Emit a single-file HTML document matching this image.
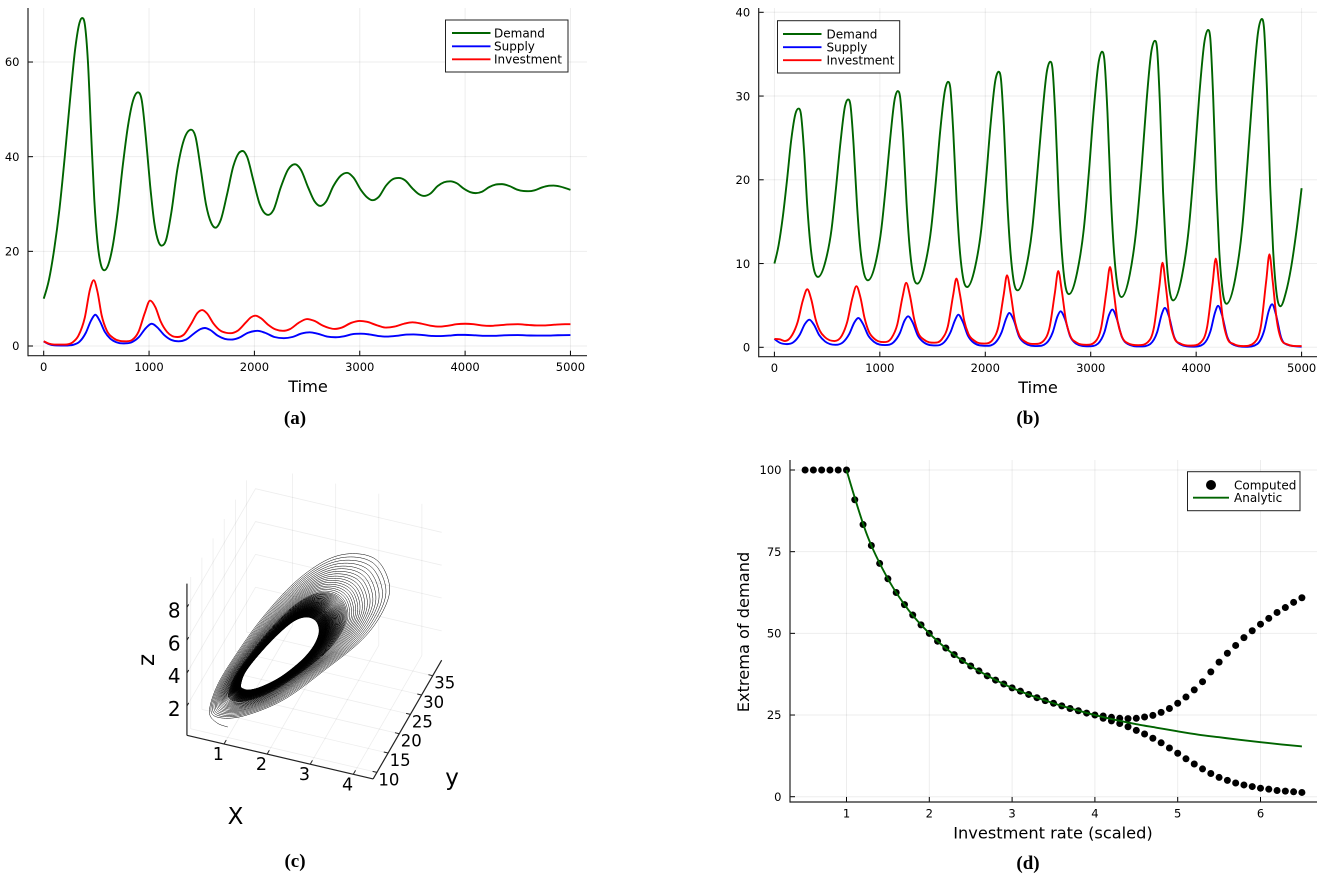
<!DOCTYPE html>
<html lang="en">
<head>
<meta charset="utf-8">
<title>Demand, supply and investment dynamics</title>
<style>
html,body{margin:0;padding:0;background:#fff;width:1325px;height:883px;overflow:hidden}
svg{display:block}
text{font-family:"DejaVu Sans","Liberation Sans",sans-serif;fill:#000}
.cap{font-family:"Liberation Serif",serif;font-weight:bold;font-size:19px}
</style>
</head>
<body>
<svg id="figure" xmlns="http://www.w3.org/2000/svg" width="1325" height="883" viewBox="0 0 1325 883">
<rect width="1325" height="883" fill="#fff"/>
<text class="cap" x="295" y="424" text-anchor="middle">(a)</text>
<text class="cap" x="1028" y="424" text-anchor="middle">(b)</text>
<text class="cap" x="295" y="867" text-anchor="middle">(c)</text>
<text class="cap" x="1028" y="869" text-anchor="middle">(d)</text>
</svg>
<script>
// ---------- Panel (a) data ----------
const aDemandT=[0,50,100,150,200,250,300,340,365,390,420,450,480,510,545,575,610,650,700,750,800,850,895,930,970,1010,1050,1090,1120,1160,1210,1270,1330,1400,1440,1490,1540,1590,1630,1680,1740,1800,1850,1890,1930,1990,2050,2100,2130,2180,2250,2320,2385,2440,2510,2570,2625,2680,2750,2820,2880,2940,3010,3070,3120,3180,3250,3310,3370,3430,3500,3560,3610,3670,3740,3800,3860,3920,3990,4050,4100,4160,4230,4290,4350,4420,4500,4550,4600,4660,4730,4790,4840,4900,4960,5000];
const aDemandV=[10,14,20.5,29,40,52,63,68.3,69.3,68,60,45,31,22,17,16,17,20.5,28,38,46.5,52,53.6,52,44,34,26,22,21.2,22.3,28,37.5,43.5,45.7,44.3,37.5,30,26,25,26.6,32,38,40.7,41.2,40,35,30,28,27.7,28.7,33.5,37.3,38.4,37.3,33.5,30.6,29.6,30.5,33.8,36,36.6,35.6,33,31.4,30.8,31.5,33.9,35.2,35.5,35,33.3,32.1,31.7,32.2,33.8,34.6,34.8,34.4,33.2,32.5,32.3,32.6,33.6,34.1,34.2,33.8,33,32.75,32.7,32.9,33.5,33.85,33.9,33.7,33.3,33];
const aSupplyT=[0,50,100,200,280,340,400,450,490,530,580,630,690,760,830,900,970,1025,1080,1140,1210,1280,1350,1430,1490,1530,1580,1650,1720,1780,1850,1940,2030,2100,2190,2280,2360,2450,2525,2600,2690,2770,2850,2930,3010,3090,3180,3270,3350,3430,3510,3600,3690,3770,3850,3930,4000,4100,4190,4270,4370,4500,4620,4770,4880,5000];
const aSupplyV=[1,0.4,0.15,0.1,0.25,0.9,2.8,5.4,6.6,5.4,3,1.6,0.8,0.55,0.75,1.8,3.8,4.7,3.9,2.4,1.3,1,1.35,2.7,3.6,3.8,3.4,2.2,1.5,1.35,1.7,2.8,3.2,2.8,1.9,1.65,1.9,2.65,2.9,2.6,2,1.85,2.05,2.5,2.6,2.45,2.1,2,2.15,2.4,2.45,2.3,2.12,2.1,2.2,2.35,2.35,2.25,2.15,2.15,2.25,2.3,2.22,2.2,2.27,2.3];
const aInvestT=[0,50,100,200,270,330,390,440,475,510,550,600,660,720,780,840,900,960,1010,1060,1110,1170,1220,1270,1330,1400,1460,1505,1550,1610,1680,1730,1775,1840,1920,1970,2010,2060,2130,2200,2270,2340,2420,2500,2570,2650,2710,2760,2830,2920,3000,3070,3160,3250,3330,3420,3500,3590,3670,3760,3840,3920,4000,4080,4160,4240,4330,4420,4500,4600,4680,4750,4850,4950,5000];
const aInvestV=[1,0.5,0.3,0.3,0.7,2.2,6,12,13.9,11.5,6.5,3.2,1.7,1.1,1,1.3,3,7,9.6,8.2,5.2,3,2.1,1.9,2.4,4.7,7,7.6,6.9,4.8,3.2,2.8,2.7,3.2,5,6.1,6.4,5.9,4.5,3.5,3.2,3.6,4.9,5.7,5.3,4.3,3.8,3.6,3.9,4.9,5.3,5.1,4.4,3.9,4.1,4.7,5,4.7,4.3,4.1,4.3,4.6,4.7,4.6,4.35,4.25,4.4,4.55,4.6,4.45,4.35,4.35,4.5,4.6,4.6];
const aXTicks=[0,1000,2000,3000,4000,5000];
const aYTicks=[0,20,40,60];

// ---------- Panel (b) data ----------
const bDemandT=[0,40,80,120,160,200,229,251,281,312,340,373,414,485,542,584,627,670,698,721,751,783,811,845,887,958,1014,1057,1099,1142,1170,1192,1222,1253,1281,1314,1355,1428,1486,1530,1573,1618,1646,1668,1697,1728,1755,1788,1828,1902,1962,2007,2051,2096,2126,2148,2177,2207,2235,2267,2307,2384,2446,2492,2539,2585,2616,2637,2666,2696,2723,2755,2794,2872,2935,2982,3029,3076,3107,3129,3159,3190,3218,3252,3292,3371,3434,3482,3529,3576,3608,3629,3657,3686,3712,3744,3782,3865,3931,3981,4030,4080,4113,4134,4162,4192,4218,4250,4288,4372,4438,4488,4539,4589,4622,4643,4672,4702,4729,4761,4800,4850,4900,4950,5000];
const bDemandV=[10,12.2,15.6,20,24.8,27.9,28.5,27.9,23.5,16.8,12.4,9.4,8.4,10.3,14.1,19,24.5,28.8,29.6,28.95,24.2,17.1,12.3,9.1,8,10,14.1,19.3,25,29.7,30.6,29.9,24.9,17.3,12.2,8.75,7.6,9.8,14.1,19.65,25.9,30.7,31.7,31,25.6,17.5,12.1,8.4,7.2,9.5,14.1,20.05,26.7,31.9,32.9,32.1,26.4,17.8,12,8.1,6.8,9.3,14.2,20.5,27.5,33,34.1,33.3,27.2,18,11.9,7.7,6.35,9,14.2,20.8,28.4,34.1,35.3,34.4,28,18.3,11.9,7.5,6,8.75,14.3,21.3,29.3,35.4,36.6,35.7,28.9,18.6,11.8,7.15,5.6,8.5,14.3,21.75,30.15,36.6,37.9,36.9,29.7,18.9,11.7,6.8,5.2,8.3,14.4,22.2,31,37.8,39.2,38.2,30.6,19.3,11.8,6.6,4.9,6.5,9.5,13.8,19];
const bSupplyT=[0,50,120,180,240,290,331,375,425,480,580,650,710,760,796,840,890,945,1050,1130,1190,1235,1268,1310,1360,1415,1530,1610,1670,1715,1744,1785,1835,1890,2010,2095,2155,2200,2227,2268,2320,2375,2490,2580,2640,2685,2714,2755,2805,2860,2980,3070,3130,3175,3205,3245,3295,3350,3470,3565,3630,3675,3703,3742,3790,3850,3970,4070,4135,4180,4208,4246,4295,4355,4470,4580,4645,4690,4720,4757,4805,4865,5000];
const bSupplyV=[1,0.55,0.38,0.6,1.5,2.8,3.3,2.7,1.45,0.7,0.3,0.6,1.6,3,3.5,2.8,1.4,0.65,0.27,0.6,1.7,3.2,3.7,3,1.4,0.6,0.22,0.6,1.8,3.3,3.9,3.1,1.4,0.55,0.18,0.55,1.8,3.5,4.1,3.3,1.3,0.5,0.15,0.5,1.8,3.7,4.3,3.4,1.3,0.45,0.12,0.45,1.8,3.9,4.5,3.5,1.25,0.4,0.1,0.4,1.8,4,4.7,3.7,1.3,0.35,0.08,0.4,1.9,4.2,4.95,3.8,1.25,0.3,0.06,0.4,2,4.4,5.15,3.9,1.2,0.3,0.08];
const bInvestT=[0,50,100,170,220,270,312,350,390,430,480,570,640,690,740,778,815,855,895,950,1035,1110,1165,1215,1250,1285,1325,1365,1420,1515,1590,1645,1695,1726,1760,1800,1840,1895,1990,2070,2125,2175,2206,2240,2280,2320,2375,2470,2555,2610,2660,2692,2725,2765,2805,2860,2960,3045,3100,3150,3183,3215,3255,3295,3350,3450,3540,3600,3650,3681,3712,3750,3790,3850,3950,4045,4105,4155,4186,4217,4255,4295,4355,4450,4555,4615,4665,4695,4725,4765,4805,4865,4950,5000];
const bInvestV=[1,0.95,0.75,1.5,3,5.6,6.93,5.7,3.4,2,1.2,0.75,1.4,3,5.9,7.3,6,3.5,1.9,1,0.62,1.1,2.7,6,7.7,6.2,3.4,1.7,0.9,0.55,1,2.5,6.2,8.2,6.3,3.2,1.6,0.8,0.45,0.9,2.5,6.3,8.6,6.5,3.2,1.5,0.7,0.4,0.8,2.4,6.5,9.1,6.8,3.2,1.4,0.6,0.3,0.7,2.4,6.8,9.6,7,3.1,1.3,0.5,0.25,0.6,2.4,7.2,10.1,7.3,3.2,1.2,0.45,0.2,0.6,2.5,7.5,10.6,7.6,3.2,1.1,0.4,0.15,0.6,2.6,8,11.1,8,3.2,1,0.35,0.15,0.15];
const bXTicks=[0,1000,2000,3000,4000,5000];
const bYTicks=[0,10,20,30,40];

// ---------- Panel (c) data: X = supply, y = demand, z = investment ----------
const cStartX=[1,0.763];
const cStartY=[10,9.6];
const cStartZ=[0.85,1.06];
const cOuterX=[0.598,0.638,0.766,1.061,1.471,1.986,2.54,3.18,3.66,3.77,3.56,2.92,2.12,1.35,0.845];
const cOuterY=[9.5,12,17,24,31,36,38,36,32,27,22,18,14,11,9.5];
const cOuterZ=[1.65,2.61,3.24,4.21,5.04,5.60,5.84,6.24,5.95,5.67,5.0,3.72,2.24,1.46,1.34];
const cInnerX=[0.944,0.948,1.126,1.395,1.611,1.794,1.951,2.054,2.078,2.026,1.885,1.59,1.268,1.077,0.974];
const cInnerY=[17,19,22,25,28,30,31,30.5,29,27,24.5,22,20,18,17];
const cInnerZ=[1.79,2.07,2.59,3.22,3.44,3.31,2.94,2.58,2.34,2.10,1.86,1.41,1.12,1.27,1.54];
const cLoopAmplitude=[1,0.95,0.902,0.857,0.813,0.772,0.733,0.696,0.66,0.627,0.595,0.565,0.536,0.508,0.48,0.454,0.429,0.405,0.392,0.379,0.367,0.355,0.344,0.333,0.323,0.313,0.304,0.295,0.286,0.278,0.27,0.262,0.255,0.248,0.241,0.234,0.228,0.222,0.216,0.21,0.204,0.198,0.193,0.188,0.183,0.178,0.173,0.168,0.164,0.16,0.156,0.152,0.148,0.144,0.14,0.136,0.132,0.129,0.126,0.123,0.12,0.117,0.114,0.111,0.108,0.105,0.102,0.099,0.096,0.093,0.09,0.087,0.084,0.081,0.078,0.075,0.072,0.069,0.066,0.063,0.06,0.057,0.054,0.051,0.048,0.045,0.042,0.039,0.036,0.033,0.03,0.027,0.024,0.021,0.018,0.015,0.012,0.009,0.006,0.003,0];
const cXTicks=[1,2,3,4];
const cYTicks=[10,15,20,25,30,35];
const cZTicks=[2,4,6,8];

// ---------- Panel (d) data ----------
const dPlateauX=[0.5,0.6,0.7,0.8,0.9,1];
const dPlateauV=[100,100,100,100,100,100];
const dSingleX=[1.1,1.2,1.3,1.4,1.5,1.6,1.7,1.8,1.9,2,2.1,2.2,2.3,2.4,2.5,2.6,2.7,2.8,2.9,3,3.1,3.2,3.3,3.4,3.5,3.6,3.7,3.8,3.9,4];
const dSingleV=[90.9,83.3,76.9,71.4,66.7,62.5,58.8,55.6,52.6,50,47.6,45.5,43.5,41.7,40,38.5,37,35.7,34.5,33.3,32.3,31.3,30.3,29.4,28.6,27.8,27,26.3,25.6,25];
const dBranchX=[4.1,4.2,4.3,4.4,4.5,4.6,4.7,4.8,4.9,5,5.1,5.2,5.3,5.4,5.5,5.6,5.7,5.8,5.9,6,6.1,6.2,6.3,6.4,6.5];
const dUpperV=[24.7,24.3,24.0,23.9,24.0,24.4,24.9,25.8,27,28.6,30.5,32.7,35.2,38.2,41.2,43.9,46.3,48.7,50.8,52.8,54.6,56.4,57.9,59.5,60.9];
const dLowerV=[24,23.2,22.4,21.4,20.3,19.2,17.9,16.5,14.9,13.3,11.6,10,8.5,7.1,5.9,5,4.2,3.6,3.1,2.6,2.3,1.9,1.7,1.5,1.3];
const dAnalyticX=[1,1.25,1.5,1.75,2,2.25,2.5,2.75,3,3.25,3.5,3.75,4,4.25,4.5,4.75,5,5.25,5.5,5.75,6,6.25,6.5];
const dAnalyticV=[100,80,66.7,57.1,50,44.4,40,36.4,33.3,30.8,28.6,26.7,25,23.5,22.2,21.1,20,19,18.2,17.4,16.7,16,15.4];
const dXTicks=[1,2,3,4,5,6];
const dYTicks=[0,25,50,75,100];

const GREEN='#006400',BLUE='#0000ff',RED='#ff0000',GRID='#000',GRID_OP=0.07,NS='http://www.w3.org/2000/svg';
const root=document.getElementById('figure');

function mk(parent,tag,attrs,txt){
  const n=document.createElementNS(NS,tag);
  for(const k in attrs)n.setAttribute(k,attrs[k]);
  if(txt!==undefined)n.textContent=txt;
  parent.appendChild(n);
  return n;
}
function smoothPath(px,py){
  const n=px.length,s=[],t=[];
  for(let i=0;i<n-1;i++)s[i]=(py[i+1]-py[i])/((px[i+1]-px[i])||1e-6);
  for(let i=1;i<n-1;i++){
    const h0=px[i]-px[i-1],h1=px[i+1]-px[i],p=(s[i-1]*h1+s[i]*h0)/(h0+h1);
    if(s[i-1]*s[i]<=0){t[i]=0;continue;}
    t[i]=Math.sign(s[i])*Math.min(3*Math.abs(s[i-1]),3*Math.abs(s[i]),Math.abs(p));
  }
  t[0]=(3*s[0]-t[1])/2;
  t[n-1]=(3*s[n-2]-t[n-2])/2;
  let d='M'+px[0].toFixed(2)+' '+py[0].toFixed(2);
  for(let i=0;i<n-1;i++){
    const h=(px[i+1]-px[i])/3;
    d+='C'+(px[i]+h).toFixed(2)+' '+(py[i]+h*t[i]).toFixed(2)+' '+(px[i+1]-h).toFixed(2)+' '+(py[i+1]-h*t[i+1]).toFixed(2)+' '+px[i+1].toFixed(2)+' '+py[i+1].toFixed(2);
  }
  return d;
}

function drawFrame(g,name,f,xTicks,yTicks){
  xTicks.forEach(v=>{
    const x=f.sx(v);
    const grid=mk(g,'line',{x1:x,x2:x,y1:f.top,y2:f.bottom,stroke:GRID,'stroke-opacity':GRID_OP,'stroke-width':1});
    
    
    const tick=mk(g,'line',{x1:x,x2:x,y1:f.bottom,y2:f.bottom-5,stroke:'#000','stroke-width':1});
    
    
    const lab=mk(g,'text',{x:x,y:f.xLabelY,'text-anchor':'middle','font-size':11.5},String(v));
    
    
  });
  yTicks.forEach(v=>{
    const y=f.sy(v);
    const grid=mk(g,'line',{x1:f.left,x2:f.right,y1:y,y2:y,stroke:GRID,'stroke-opacity':GRID_OP,'stroke-width':1});
    
    
    const tick=mk(g,'line',{x1:f.left,x2:f.left+5,y1:y,y2:y,stroke:'#000','stroke-width':1});
    
    
    const lab=mk(g,'text',{x:f.left-8.5,y:y+4.2,'text-anchor':'end','font-size':11.5},String(v));
    
    
  });
  const sl=mk(g,'line',{x1:f.left,x2:f.left,y1:f.top,y2:f.bottom+0.6,stroke:'#222','stroke-width':1.2});
  
  
  const sb=mk(g,'line',{x1:f.left,x2:f.right,y1:f.bottom,y2:f.bottom,stroke:'#222','stroke-width':1.2});
  
  
}
function drawSeries(g,f,xs,ys,color,name){
  const p=mk(g,'path',{d:smoothPath(xs.map(f.sx),ys.map(f.sy)),fill:'none',stroke:color,'stroke-width':1.9,'stroke-linejoin':'round'});
  
  
}
function drawLegendBox(g,name,x1,y1,x2,y2){
  const b=mk(g,'rect',{x:x1,y:y1,width:x2-x1,height:y2-y1,fill:'#fff',stroke:'#222','stroke-width':1});
  
  
}
function drawLegendRow(g,name,lx1,lx2,tx,y,color,label){
  const l=mk(g,'line',{x1:lx1,x2:lx2,y1:y,y2:y,stroke:color,'stroke-width':1.9});
  
  
  const t=mk(g,'text',{x:tx,y:y+4.3,'font-size':12},label);
  
  
}

// ---------- Panel (a) ----------
const gA=mk(root,'g',{});


const fA={sx:v=>43.7+v*0.10535,sy:v=>346-v*4.733,left:28,right:587,top:8,bottom:355.7,xLabelY:371.2};
drawFrame(gA,'panel-a',fA,aXTicks,aYTicks);
drawSeries(gA,fA,aDemandT,aDemandV,GREEN,'panel-a-demand-line');
drawSeries(gA,fA,aSupplyT,aSupplyV,BLUE,'panel-a-supply-line');
drawSeries(gA,fA,aInvestT,aInvestV,RED,'panel-a-investment-line');
drawLegendBox(gA,'panel-a-legend',445.5,20,568,72);
drawLegendRow(gA,'panel-a-legend-demand',452,490.5,494,33,GREEN,'Demand');
drawLegendRow(gA,'panel-a-legend-supply',452,490.5,494,46.3,BLUE,'Supply');
drawLegendRow(gA,'panel-a-legend-investment',452,490.5,494,59.3,RED,'Investment');
const tA=mk(gA,'text',{x:308,y:392,'text-anchor':'middle','font-size':16.2},'Time');



// ---------- Panel (b) ----------
const gB=mk(root,'g',{});


const fB={sx:v=>774.4+v*0.10544,sy:v=>347.3-v*8.375,left:758.7,right:1317,top:8,bottom:356.7,xLabelY:372.2};
drawFrame(gB,'panel-b',fB,bXTicks,bYTicks);
drawSeries(gB,fB,bDemandT,bDemandV,GREEN,'panel-b-demand-line');
drawSeries(gB,fB,bSupplyT,bSupplyV,BLUE,'panel-b-supply-line');
drawSeries(gB,fB,bInvestT,bInvestV,RED,'panel-b-investment-line');
drawLegendBox(gB,'panel-b-legend',777.5,20.7,899.7,73);
drawLegendRow(gB,'panel-b-legend-demand',783,821.5,826.5,34,GREEN,'Demand');
drawLegendRow(gB,'panel-b-legend-supply',783,821.5,826.5,47.2,BLUE,'Supply');
drawLegendRow(gB,'panel-b-legend-investment',783,821.5,826.5,60.2,RED,'Investment');
const tB=mk(gB,'text',{x:1038,y:393,'text-anchor':'middle','font-size':16.2},'Time');



// ---------- Panel (c): orthographic 3D projection ----------
const gC=mk(root,'g',{});


const xMin=0.14,xMax=4.46,yMin=8.3,yMax=39,zMin=0.215,zMax=9.45;
function proj(X,y,z){
  return [224+(X-1)*43.1+(y-yMin)*2.233,744+(X-1)*10.1-(y-yMin)*3.867-(z-zMin)*16.43];
}
function seg3(parent,a,b,stroke,opacity,width,name){
  const p=proj(a[0],a[1],a[2]),q=proj(b[0],b[1],b[2]);
  const l=mk(parent,'line',{x1:p[0],y1:p[1],x2:q[0],y2:q[1],stroke:stroke,'stroke-opacity':opacity,'stroke-width':width});
  
  
}
const cClip=mk(root,'clipPath',{id:'cWalls'});
mk(cClip,'rect',{x:130,y:473,width:340,height:370});
const gGrid=mk(gC,'g',{'clip-path':'url(#cWalls)'});


cXTicks.forEach(v=>{
  seg3(gGrid,[v,yMin,zMin],[v,yMax,zMin],GRID,GRID_OP,0.8,'panel-c-floor-x-gridline');
  seg3(gGrid,[v,yMax,zMin],[v,yMax,zMax],GRID,GRID_OP,0.8,'panel-c-back-x-gridline');
});
cYTicks.forEach(v=>{
  seg3(gGrid,[xMin,v,zMin],[xMax,v,zMin],GRID,GRID_OP,0.8,'panel-c-floor-y-gridline');
  seg3(gGrid,[xMin,v,zMin],[xMin,v,zMax],GRID,GRID_OP,0.8,'panel-c-wall-y-gridline');
});
cZTicks.forEach(v=>{
  seg3(gGrid,[xMin,yMin,v],[xMin,yMax,v],GRID,GRID_OP,0.8,'panel-c-wall-z-gridline');
  seg3(gGrid,[xMin,yMax,v],[xMax,yMax,v],GRID,GRID_OP,0.8,'panel-c-back-z-gridline');
});
// build trajectory control points from the loop amplitudes and two outline arrays
const phases=cOuterX.length;
const ctrl=[];
cStartX.forEach((v,i)=>ctrl.push(proj(v,cStartY[i],cStartZ[i])));
for(let k=0;k<cLoopAmplitude.length-1;k++){
  for(let ph=0;ph<phases;ph++){
    const m=cLoopAmplitude[k]+(cLoopAmplitude[k+1]-cLoopAmplitude[k])*ph/phases;
    ctrl.push(proj(cInnerX[ph]+m*(cOuterX[ph]-cInnerX[ph]),cInnerY[ph]+m*(cOuterY[ph]-cInnerY[ph]),cInnerZ[ph]+m*(cOuterZ[ph]-cInnerZ[ph])));
  }
}
let cd='M'+ctrl[0][0].toFixed(1)+' '+ctrl[0][1].toFixed(1);
for(let i=0;i<ctrl.length-1;i++){
  const p0=ctrl[Math.max(i-1,0)],p1=ctrl[i],p2=ctrl[i+1],p3=ctrl[Math.min(i+2,ctrl.length-1)];
  cd+='C'+(p1[0]+(p2[0]-p0[0])/6).toFixed(1)+' '+(p1[1]+(p2[1]-p0[1])/6).toFixed(1)+' '+(p2[0]-(p3[0]-p1[0])/6).toFixed(1)+' '+(p2[1]-(p3[1]-p1[1])/6).toFixed(1)+' '+p2[0].toFixed(1)+' '+p2[1].toFixed(1);
}
const spiral=mk(gC,'path',{d:cd,fill:'none',stroke:'#000','stroke-width':0.5,'stroke-linejoin':'round'});


seg3(gC,[xMin,yMin,zMin],[xMax,yMin,zMin],'#222',1,1.2,'panel-c-x-axis');
seg3(gC,[xMax,yMin,zMin],[xMax,yMax,zMin],'#222',1,1.2,'panel-c-y-axis');
seg3(gC,[xMin,yMin,zMin],[xMin,yMin,zMax],'#222',1,1.2,'panel-c-z-axis');
cXTicks.forEach(v=>{
  seg3(gC,[v,yMin,zMin],[v,yMin+1,zMin],'#222',1,1,'panel-c-x-tick');
  const p=proj(v,yMin,zMin);
  const t=mk(gC,'text',{x:p[0]-5.7,y:p[1]+16,'text-anchor':'middle','font-size':17.5},String(v));
  
  
});
cYTicks.forEach(v=>{
  seg3(gC,[xMax,v,zMin],[xMax-0.1,v,zMin],'#222',1,1,'panel-c-y-tick');
  const p=proj(xMax,v,zMin);
  const t=mk(gC,'text',{x:p[0]+12,y:p[1]+13,'text-anchor':'middle','font-size':16.5},String(v));
  
  
});
cZTicks.forEach(v=>{
  seg3(gC,[xMin,yMin,v],[xMin,yMin+0.8,v],'#222',1,1,'panel-c-z-tick');
  const p=proj(xMin,yMin,v);
  const t=mk(gC,'text',{x:p[0]-12.7,y:p[1]+10,'text-anchor':'middle','font-size':20},String(v));
  
  
});
const xT=mk(gC,'text',{x:235.5,y:824,'text-anchor':'middle','font-size':23},'X');


const yT=mk(gC,'text',{x:452,y:785,'text-anchor':'middle','font-size':23},'y');


const zT=mk(gC,'text',{'text-anchor':'middle','font-size':23,transform:'translate(154,660) rotate(-90)'},'z');



// ---------- Panel (d) ----------
const gD=mk(root,'g',{});


const fD={sx:v=>846.5+(v-1)*82.8,sy:v=>796.7-v*3.267,left:790,right:1317,top:460,bottom:802,xLabelY:817.5};
drawFrame(gD,'panel-d',fD,dXTicks,dYTicks);
function drawDots(xs,ys,name){
  xs.forEach((x,i)=>{
    const c=mk(gD,'circle',{cx:fD.sx(x),cy:fD.sy(ys[i]),r:3.5,fill:'#000'});
    
    
  });
}
drawDots(dPlateauX,dPlateauV,'computed-point-plateau');
drawDots(dSingleX,dSingleV,'computed-point-single-branch');
drawDots(dBranchX,dUpperV,'computed-point-upper-branch');
drawDots(dBranchX,dLowerV,'computed-point-lower-branch');
drawSeries(gD,fD,dAnalyticX,dAnalyticV,GREEN,'panel-d-analytic-line');
drawLegendBox(gD,'panel-d-legend',1187.5,471.7,1300,510.7);
const lm=mk(gD,'circle',{cx:1211,cy:485,r:5,fill:'#000'});


const lmt=mk(gD,'text',{x:1234,y:489.3,'font-size':12},'Computed');


drawLegendRow(gD,'panel-d-legend-analytic',1193,1229,1234,497.7,GREEN,'Analytic');
const xD=mk(gD,'text',{x:1053,y:838.5,'text-anchor':'middle','font-size':16.2},'Investment rate (scaled)');


const yD=mk(gD,'text',{'text-anchor':'middle','font-size':16.2,transform:'translate(749,632) rotate(-90)'},'Extrema of demand');


</script>
</body>
</html>
